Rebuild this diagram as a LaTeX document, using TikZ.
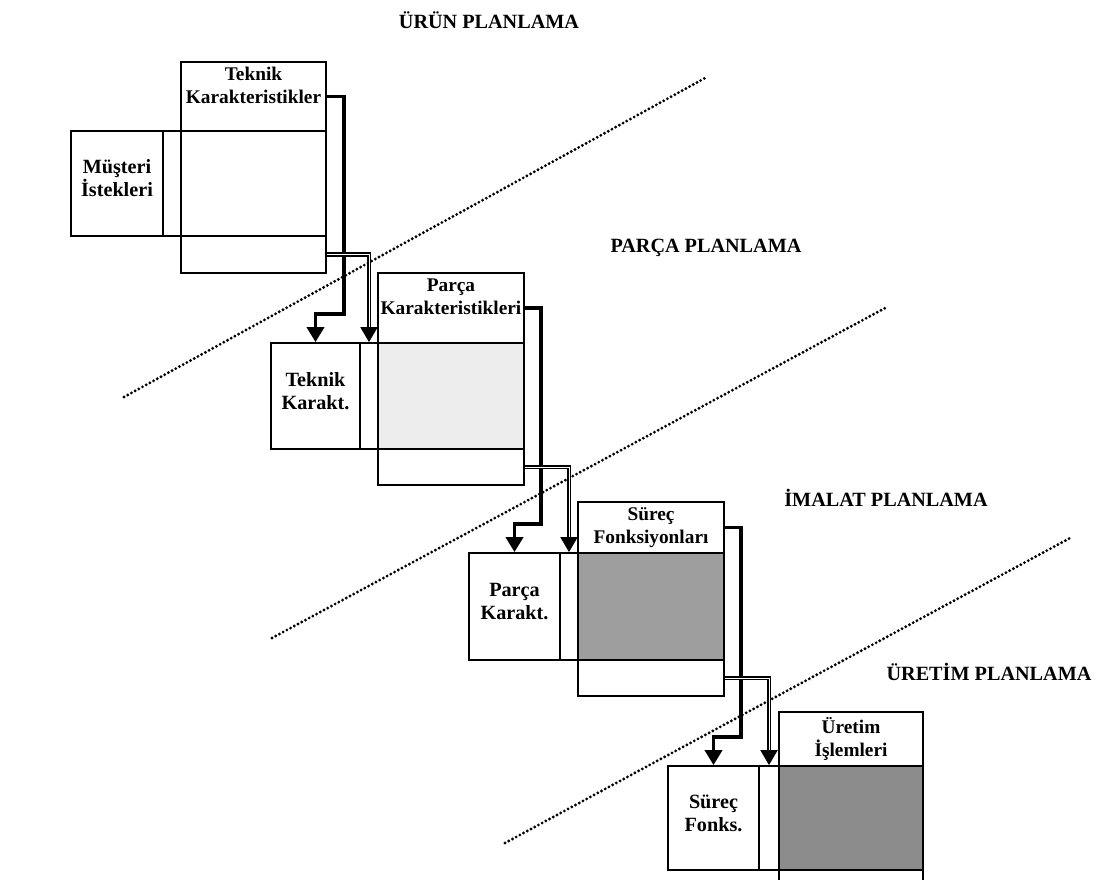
\documentclass[tikz,border=0pt]{standalone}
\usepackage{fontspec}
\setmainfont{Liberation Serif}
\usetikzlibrary{arrows.meta,fit,calc}
\tikzset{
  cell/.style    = {draw, line width=1pt, inner sep=0pt, fill=white},
  hdrtxt/.style  = {align=center, inner sep=0pt, font=\fontsize{11}{13}\selectfont\bfseries},
  rowtxt/.style  = {align=center, inner sep=0pt, yshift=0.1cm, font=\fontsize{11.5}{13}\selectfont\bfseries},
  phase/.style   = {font=\fontsize{11.5}{14}\selectfont\bfseries},
  flow/.style    = {-{Triangle[length=0.3cm,width=0.34cm]}, line width=2.2pt},
  flowdbl/.style = {-{Triangle[length=0.3cm,width=0.34cm]}, line width=1.1pt,
                    double, double distance=0.4pt},
  border/.style  = {line width=1.8pt, dash pattern=on 0pt off 2.4pt, line cap=round},
}

\begin{document}
\begin{tikzpicture}[x=0.02cm, y=-0.02cm]
\useasboundingbox (0,0) rectangle (1102,879);

% phase names
\node[phase] (urun)   at (489,20)  {ÜRÜN PLANLAMA};
\node[phase] (parca)  at (706,248) {PARÇA PLANLAMA};
\node[phase] (imalat) at (886,498) {İMALAT PLANLAMA};
\node[phase] (uretim) at (989,672) {ÜRETİM PLANLAMA};

% dotted boundaries between phases
\draw[border] (124,397) -- (707,77);
\draw[border] (272,638) -- (887,307);
\draw[border] (505,843) -- (1072,537);

% house 1
\node[cell, fit={(181,62) (326,131)}] (hdr1) {};
\node[cell, fit={(71,131) (163,236)}] (lab1) {};
\node[cell, fit={(163,131) (181,236)}] (col1) {};
\node[cell, fit={(181,131) (326,236)}] (mat1) {};
\node[cell, fit={(181,236) (326,273)}] (bot1) {};
\node[hdrtxt] (hdr1-t) at (hdr1.center) {Teknik\\Karakteristikler\\~};
\node[rowtxt] (lab1-t) at (lab1.center) {Müşteri\\İstekleri};

% house 2
\node[cell, fit={(378,273) (524,343)}] (hdr2) {};
\node[cell, fit={(271,343) (360,449)}] (lab2) {};
\node[cell, fit={(360,343) (378,449)}] (col2) {};
\node[cell, fill=black!7, fit={(378,343) (524,449)}] (mat2) {};
\node[cell, fit={(378,449) (524,485)}] (bot2) {};
\node[hdrtxt] (hdr2-t) at (hdr2.center) {Parça\\Karakteristikleri\\~};
\node[rowtxt] (lab2-t) at (lab2.center) {Teknik\\Karakt.};

% house 3
\node[cell, fit={(578,502) (724,553)}] (hdr3) {};
\node[cell, fit={(469,553) (560,660)}] (lab3) {};
\node[cell, fit={(560,553) (578,660)}] (col3) {};
\node[cell, fill=black!38, fit={(578,553) (724,660)}] (mat3) {};
\node[cell, fit={(578,660) (724,696)}] (bot3) {};
\node[hdrtxt] (hdr3-t) at (hdr3.center) {Süreç\\Fonksiyonları};
\node[rowtxt] (lab3-t) at (lab3.center) {Parça\\Karakt.};

% house 4
\node[cell, fit={(779,712) (923,766)}] (hdr4) {};
\node[cell, fit={(668,766) (759,870)}] (lab4) {};
\node[cell, fit={(759,766) (779,870)}] (col4) {};
\node[cell, fill=black!45, fit={(779,766) (923,870)}] (mat4) {};
\node[cell, fit={(779,870) (923,906)}] (bot4) {};
\node[hdrtxt] (hdr4-t) at (hdr4.center) {Üretim\\İşlemleri};
\node[rowtxt] (lab4-t) at (lab4.center) {Süreç\\Fonks.};

\draw[flow] (hdr1.east) -- ++(17,0) |- ($(lab2.north)+(0,-28)$) -- (lab2.north);
\draw[flowdbl] (bot1.east) -| (col2.north);
\draw[flow] (hdr2.east) -- ++(16,0) |- ($(lab3.north)+(0,-28)$) -- (lab3.north);
\draw[flowdbl] (bot2.east) -| (col3.north);
\draw[flow] (hdr3.east) -- ++(16,0) |- ($(lab4.north)+(0,-28)$) -- (lab4.north);
\draw[flowdbl] (bot3.east) -| (col4.north);

\end{tikzpicture}
\end{document}
